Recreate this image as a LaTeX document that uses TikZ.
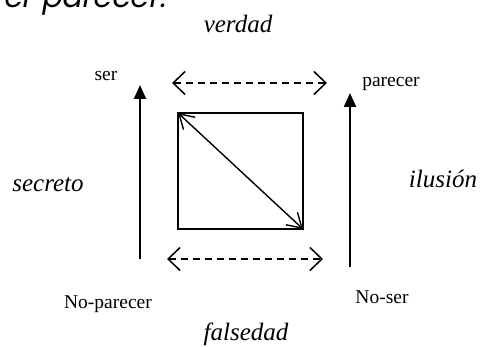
\documentclass[tikz,border=0pt]{standalone}
\usepackage{fontspec}
\setmainfont{Liberation Serif}
\newfontfamily\headfont[FakeSlant=0.18]{Poppins}
\usetikzlibrary{arrows.meta}

\begin{document}
\begin{tikzpicture}[x=1pt,y=-1pt,
		term/.style={inner sep=0pt, anchor=base, font=\fontsize{19.5}{22}\selectfont},
		axis/.style={inner sep=0pt, anchor=base, font=\fontsize{25}{28}\selectfont\itshape},
		contra/.style={line width=1.5pt, dash pattern=on 7pt off 5pt,
			{Straight Barb[length=12pt,width=23pt,line width=1.5pt]}-{Straight Barb[length=12pt,width=23pt,line width=1.5pt]}},
		implies/.style={line width=2.2pt, -{Triangle[length=14pt,width=12pt]}},
		diag/.style={line width=1.4pt, shorten <=1.5pt, shorten >=1.5pt,
			{Straight Barb[length=14pt,width=17pt,line width=1.4pt]}-{Straight Barb[length=14pt,width=17pt,line width=1.4pt]}}]
	\useasboundingbox (0,0) rectangle (481,347);
	% cut-off line of the page above
	\node[inner sep=0pt, anchor=base east, font=\headfont\fontsize{30}{34}\selectfont] (head) at (166,8) {er parecer.};
	% the four terms
	\node[term] (ser) at (106,81) {ser};
	\node[term] (parecer) at (391,87) {parecer};
	\node[term] (noparecer) at (108,308) {No-parecer};
	\node[term] (noser) at (382,303) {No-ser};
	% the four axes
	\node[axis] (verdad) at (238,33) {verdad};
	\node[axis] (falsedad) at (246,340) {falsedad};
	\node[axis] (secreto) at (48,192) {secreto};
	\node[axis] (ilusion) at (443,188) {ilusión};
	% square in the middle
	\node[draw, line width=2pt, minimum width=125pt, minimum height=116pt, inner sep=0pt] (sq) at (240.5,171) {};
	\draw[diag] (sq.north west) -- (sq.south east);
	% contraries
	\coordinate (tl) at (172,83);
	\coordinate (tr) at (327,83);
	\coordinate (bl) at (167,259);
	\coordinate (br) at (323,259);
	\draw[contra] (tl) -- (tr);
	\draw[contra] (bl) -- (br);
	% implications
	\coordinate (lb) at (140,259);
	\coordinate (lt) at (140,85);
	\coordinate (rb) at (350,267);
	\coordinate (rt) at (350,93);
	\draw[implies] (lb) -- (lt);
	\draw[implies] (rb) -- (rt);
\end{tikzpicture}
\end{document}
